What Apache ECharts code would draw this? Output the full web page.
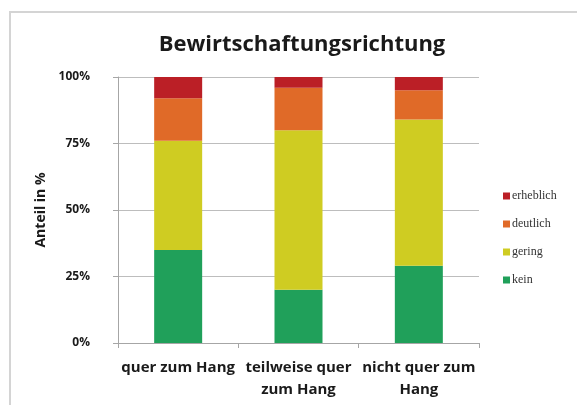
<!DOCTYPE html>
<html>
<head>
<meta charset="utf-8">
<script src="https://cdn.jsdelivr.net/npm/echarts@6/dist/echarts.min.js"></script>
<style>
html,body{margin:0;padding:0;background:#fff;}
#main{width:577px;height:405px;}
</style>
</head>
<body>
<div id="main"></div>
<script>
const categories = ['quer zum Hang', 'teilweise quer\nzum Hang', 'nicht quer zum\nHang'];
const yTicks = [0, 25, 50, 75, 100];
const kein = [35, 20, 29];
const gering = [41, 60, 55];
const deutlich = [16, 16, 11];
const erheblich = [8, 4, 5];
const seriesNames = ['kein', 'gering', 'deutlich', 'erheblich'];
const seriesData = [kein, gering, deutlich, erheblich];
const colors = ['#20a05a', '#cfcc22', '#e06a28', '#bb1f26'];

const chart = echarts.init(document.getElementById('main'), null, {renderer: 'canvas'});
const font = '"Open Sans", "DejaVu Sans", sans-serif';
chart.setOption({
  animation: false,
  backgroundColor: '#ffffff',
  graphic: [{
    type: 'rect', left: 9, top: 11, silent: true, z: -10,
    shape: {width: 600, height: 420},
    style: {fill: '#ffffff', stroke: '#d4d4d4', lineWidth: 2}
  }],
  title: {
    text: 'Bewirtschaftungsrichtung',
    left: 297, top: 29, textAlign: 'center',
    textStyle: {fontFamily: font, fontSize: 22, fontWeight: 'bold', color: '#1a1a1a'}
  },
  legend: {
    orient: 'vertical', left: 498, top: 185,
    data: ['erheblich', 'deutlich', 'gering', 'kein'],
    itemWidth: 7, itemHeight: 7, itemGap: 16,
    icon: 'rect',
    textStyle: {fontFamily: '"Liberation Serif", "DejaVu Serif", serif', fontSize: 12, color: '#333', padding: [0, 0, 0, -3]}
  },
  grid: {left: 118, right: 98, top: 77, bottom: 62, containLabel: false},
  xAxis: {
    type: 'category', data: categories,
    axisLine: {lineStyle: {color: '#a6a6a6'}},
    axisTick: {show: true, alignWithLabel: false, length: 5, lineStyle: {color: '#a6a6a6'}},
    axisLabel: {fontFamily: font, fontSize: 15, fontWeight: 'bold', color: '#1a1a1a', margin: 14, lineHeight: 22, interval: 0}
  },
  yAxis: {
    type: 'value', min: 0, max: 100, interval: 25,
    name: 'Anteil in %', nameLocation: 'middle', nameGap: 67, nameRotate: 90,
    nameTextStyle: {fontFamily: font, fontSize: 14, fontWeight: 'bold', color: '#1a1a1a'},
    axisLine: {show: true, lineStyle: {color: '#a6a6a6'}},
    axisTick: {show: true, length: 5, lineStyle: {color: '#a6a6a6'}},
    splitLine: {lineStyle: {color: '#bdbdbd', width: 1}},
    axisLabel: {fontFamily: font, fontSize: 12, fontWeight: 'bold', color: '#1a1a1a', margin: 28,
      formatter: v => yTicks.includes(v) ? v + '%' : ''}
  },
  series: seriesNames.map((n, i) => ({
    name: n, type: 'bar', stack: 'total', data: seriesData[i],
    barWidth: 48, itemStyle: {color: colors[i]}
  }))
});
</script>
</body>
</html>
